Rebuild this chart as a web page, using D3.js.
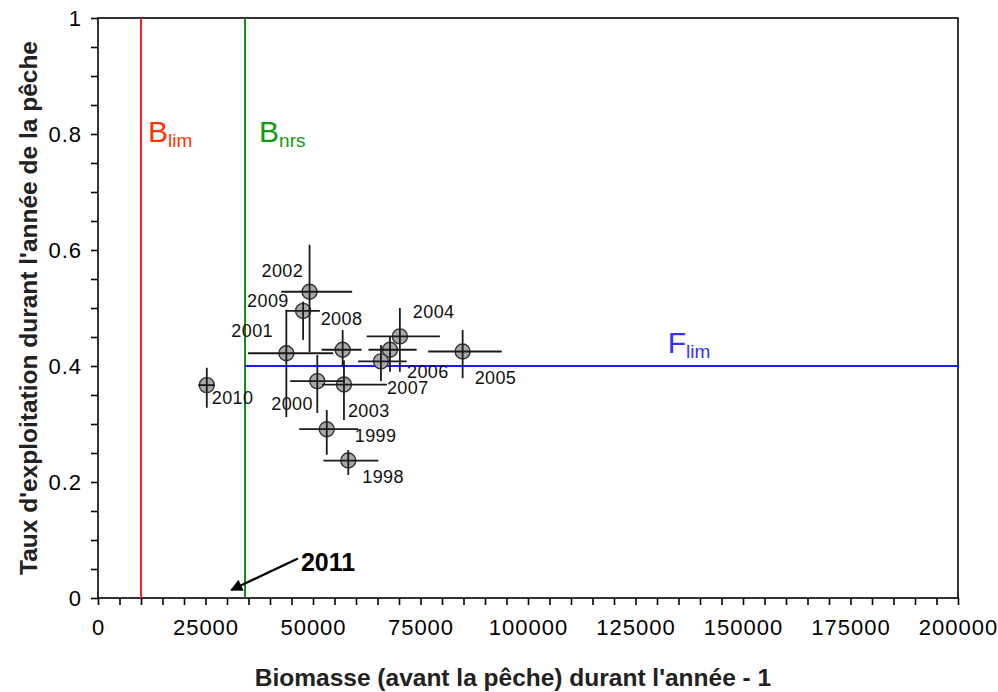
<!DOCTYPE html>
<html>
<head>
<meta charset="utf-8">
<script src="https://cdn.jsdelivr.net/npm/d3@7"></script>
<style>
  html, body { margin: 0; padding: 0; background: #fff; }
  svg { display: block; font-family: "Liberation Sans", Arial, sans-serif; }
</style>
</head>
<body>
<svg id="chart" width="998" height="692"></svg>
<script>
// Stock status by year: biomass before fishing (year - 1) vs exploitation rate
const years = [1998, 1999, 2000, 2001, 2002, 2003, 2004, 2005, 2006, 2007, 2008, 2009, 2010];
const biomass = [58200, 53200, 51000, 43800, 49200, 57200, 70200, 84800, 67900, 65800, 56900, 47700, 25300];
const exploitation = [0.237, 0.291, 0.374, 0.422, 0.528, 0.368, 0.451, 0.425, 0.428, 0.408, 0.428, 0.495, 0.367];
const biomassLow = [52400, 46800, 44700, 34900, 42600, 52100, 62500, 76800, 62900, 60500, 52000, 43700, 23300];
const biomassHigh = [65200, 60500, 57000, 54700, 59100, 67200, 79500, 93900, 74100, 71800, 61300, 51600, 27200];
const exploitationLow = [0.212, 0.247, 0.319, 0.312, 0.424, 0.307, 0.390, 0.379, 0.390, 0.374, 0.398, 0.445, 0.328];
const exploitationHigh = [0.255, 0.324, 0.419, 0.497, 0.609, 0.410, 0.500, 0.462, 0.450, 0.436, 0.462, 0.511, 0.397];

// Reference points
const Blim = 10000;
const Bnrs = 34200;
const Flim = 0.4;

// Axis ticks
const xTickValues = [0, 25000, 50000, 75000, 100000, 125000, 150000, 175000, 200000];
const xTickLabels = ["0", "25000", "50000", "75000", "100000", "125000", "150000", "175000", "200000"];
const yTickValues = [0, 0.2, 0.4, 0.6, 0.8, 1];
const yTickLabels = ["0", "0.2", "0.4", "0.6", "0.8", "1"];

// Current-year annotation (arrow from label toward the point)
const currentYear = "2011";
const currentYearTip = [31000, 0.014];
const currentYearTail = [46500, 0.068];

const svg = d3.select("#chart");
const margin = { top: 18, right: 40, bottom: 94, left: 98 };
const W = 998, H = 692;
const innerW = W - margin.left - margin.right;
const innerH = H - margin.top - margin.bottom;

const x = d3.scaleLinear().domain([0, 200000]).range([margin.left, margin.left + innerW]);
const y = d3.scaleLinear().domain([0, 1]).range([margin.top + innerH, margin.top]);

const defs = svg.append("defs");
defs.append("marker")
  .attr("id", "arrowhead")
  .attr("viewBox", "0 0 10 10")
  .attr("refX", 9).attr("refY", 5)
  .attr("markerWidth", 16).attr("markerHeight", 12)
  .attr("markerUnits", "userSpaceOnUse")
  .attr("orient", "auto")
  .append("path").attr("d", "M0,0 L10,5 L0,10 Z").attr("fill", "#000");

// Axes with minor ticks
const xMinor = d3.range(0, 200001, 5000);
const yMinor = d3.range(0, 21).map(i => i * 0.05);

const xAxis = d3.axisBottom(x)
  .tickValues(xMinor)
  .tickSize(7)
  .tickPadding(14)
  .tickFormat(v => {
    const i = xTickValues.findIndex(t => Math.abs(t - v) < 1e-6);
    return i >= 0 ? xTickLabels[i] : "";
  });

const yAxis = d3.axisLeft(y)
  .tickValues(yMinor)
  .tickSize(7)
  .tickPadding(9)
  .tickFormat(v => {
    const i = yTickValues.findIndex(t => Math.abs(t - v) < 1e-6);
    return i >= 0 ? yTickLabels[i] : "";
  });

const gx = svg.append("g")
  .attr("transform", `translate(0,${margin.top + innerH})`)
  .call(xAxis);
const gy = svg.append("g")
  .attr("transform", `translate(${margin.left},0)`)
  .call(yAxis);

[gx, gy].forEach(g => {
  g.select(".domain").remove();
  g.selectAll(".tick line").attr("stroke", "#000").attr("stroke-width", 1.6);
  g.selectAll(".tick text")
    .attr("fill", "#000")
    .attr("font-size", 22)
    .attr("letter-spacing", 1)
    .attr("font-family", "'Liberation Sans', Arial, sans-serif");
});
gx.selectAll(".tick text").attr("dy", "0.71em");
gy.selectAll(".tick text").attr("dy", "0.36em");

// Plot frame
svg.append("rect")
  .attr("x", x(0)).attr("y", y(1))
  .attr("width", x(200000) - x(0)).attr("height", y(0) - y(1))
  .attr("fill", "none").attr("stroke", "#000").attr("stroke-width", 1.6);

// Reference lines
svg.append("line")
  .attr("x1", x(Blim)).attr("x2", x(Blim))
  .attr("y1", y(0)).attr("y2", y(1))
  .attr("stroke", "#ff2020").attr("stroke-width", 2);
svg.append("line")
  .attr("x1", x(Bnrs)).attr("x2", x(Bnrs))
  .attr("y1", y(0)).attr("y2", y(1))
  .attr("stroke", "#118811").attr("stroke-width", 2);
svg.append("line")
  .attr("x1", x(Bnrs)).attr("x2", x(200000))
  .attr("y1", y(Flim)).attr("y2", y(Flim))
  .attr("stroke", "#1a1aff").attr("stroke-width", 2);

// Reference labels with subscripts
function refLabel(px, py, main, sub, color) {
  const t = svg.append("text")
    .attr("x", px).attr("y", py)
    .attr("fill", color)
    .attr("font-size", 30);
  t.append("tspan").text(main);
  t.append("tspan").attr("font-size", 19).attr("dy", 5).text(sub);
}
refLabel(x(Blim) + 7, y(0.786), "B", "lim", "#ff3300");
refLabel(x(Bnrs) + 14, y(0.786), "B", "nrs", "#119911");
refLabel(x(132500), y(Flim) - 13, "F", "lim", "#3333ff");

// Data points
const data = years.map((yr, i) => ({
  year: yr,
  b: biomass[i], e: exploitation[i],
  bLo: biomassLow[i], bHi: biomassHigh[i],
  eLo: exploitationLow[i], eHi: exploitationHigh[i]
}));

const pts = svg.append("g");
pts.selectAll("circle")
  .data(data)
  .join("circle")
  .attr("cx", d => x(d.b))
  .attr("cy", d => y(d.e))
  .attr("r", 7.5)
  .attr("fill", "#a9a9a9")
  .attr("stroke", "#333")
  .attr("stroke-width", 1.4);

const bars = svg.append("g").attr("stroke", "#1a1a1a").attr("stroke-width", 1.8);
bars.selectAll("line.h")
  .data(data)
  .join("line")
  .attr("class", "h")
  .attr("x1", d => x(d.bLo)).attr("x2", d => x(d.bHi))
  .attr("y1", d => y(d.e)).attr("y2", d => y(d.e));
bars.selectAll("line.v")
  .data(data)
  .join("line")
  .attr("class", "v")
  .attr("x1", d => x(d.b)).attr("x2", d => x(d.b))
  .attr("y1", d => y(d.eLo)).attr("y2", d => y(d.eHi));

// Year labels: offset (px) of each label from its point
const labelOffset = {
  1998: [14, 22], 1999: [28, 13], 2000: [-46, 29], 2001: [-55, -16],
  2002: [-48, -15], 2003: [4, 32], 2004: [13, -18], 2005: [12, 32],
  2006: [17, 28], 2007: [6, 33], 2008: [-22, -25], 2009: [-56, -4],
  2010: [5, 19]
};
svg.append("g").selectAll("text")
  .data(data)
  .join("text")
  .attr("x", d => x(d.b) + labelOffset[d.year][0])
  .attr("y", d => y(d.e) + labelOffset[d.year][1])
  .attr("font-size", 18)
  .attr("letter-spacing", 0.4)
  .attr("fill", "#111")
  .text(d => d.year);

// Current-year annotation
svg.append("line")
  .attr("x1", x(currentYearTail[0])).attr("y1", y(currentYearTail[1]))
  .attr("x2", x(currentYearTip[0])).attr("y2", y(currentYearTip[1]))
  .attr("stroke", "#000").attr("stroke-width", 2.2)
  .attr("marker-end", "url(#arrowhead)");
svg.append("text")
  .attr("x", x(currentYearTail[0]) + 3)
  .attr("y", y(currentYearTail[1]) + 12)
  .attr("font-size", 25)
  .attr("font-weight", "bold")
  .text(currentYear);

// Axis titles
svg.append("text")
  .attr("x", 513).attr("y", 686)
  .attr("text-anchor", "middle")
  .attr("font-size", 24.5)
  .attr("font-weight", "bold")
  .attr("fill", "#222")
  .text("Biomasse (avant la pêche) durant l'année - 1");
svg.append("text")
  .attr("transform", `translate(37,${(y(0) + y(1)) / 2}) rotate(-90)`)
  .attr("text-anchor", "middle")
  .attr("font-size", 24.5)
  .attr("font-weight", "bold")
  .attr("fill", "#222")
  .text("Taux d'exploitation durant l'année de la pêche");
</script>
</body>
</html>
